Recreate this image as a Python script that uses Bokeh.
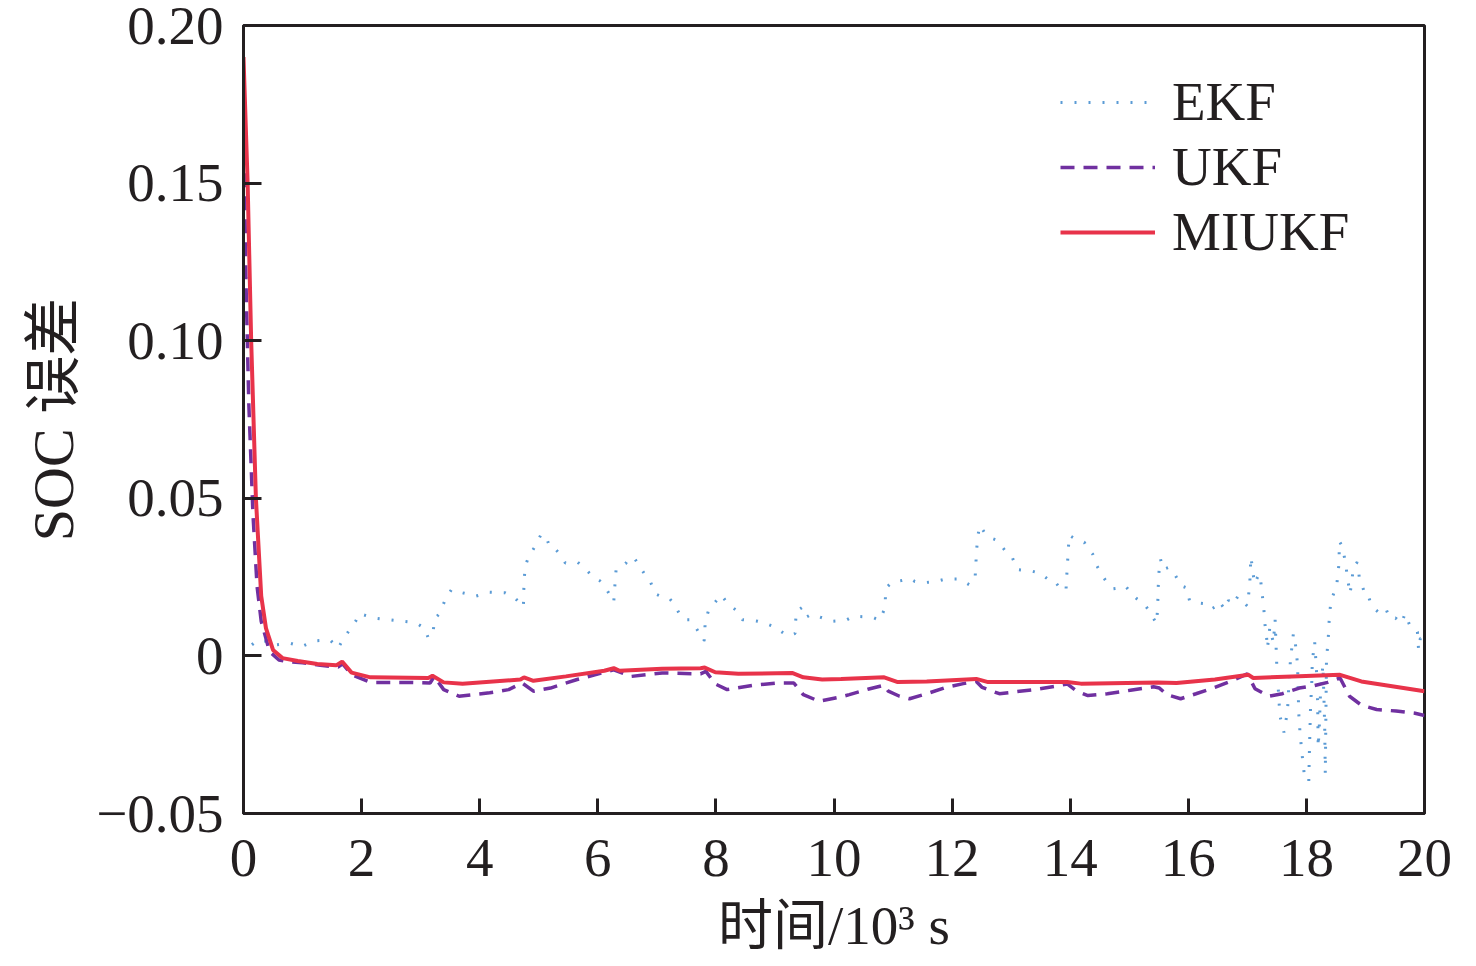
from bokeh.plotting import figure
from bokeh.models import FixedTicker, CustomJSTickFormatter, Legend, LegendItem, Range1d
from bokeh.embed import file_html
from bokeh.resources import INLINE

# ---- data (time in 10^3 s, SOC error) ----
ekf_t = [0.0, 0.14, 0.24, 0.47, 0.53, 0.79, 0.99, 1.21, 1.47, 1.6, 1.69, 1.83, 1.9, 1.96, 2.22, 2.54, 2.8,
         2.96, 3.07, 3.13, 3.21, 3.24, 3.32, 3.42, 3.52, 3.71, 3.94, 4.17, 4.43, 4.59, 4.74, 4.75, 4.77,
         4.82, 4.9, 4.96, 5.04, 5.12, 5.19, 5.28, 5.37, 5.45, 5.66, 5.82, 5.92, 6.03, 6.15, 6.27, 6.29,
         6.31, 6.4, 6.47, 6.55, 6.63, 6.71, 6.79, 6.89, 6.97, 7.09, 7.21, 7.3, 7.38, 7.47, 7.55, 7.66,
         7.8, 7.82, 7.87, 7.99, 8.09, 8.16, 8.24, 8.37, 8.45, 8.58, 8.71, 8.84, 8.97, 9.07, 9.21, 9.34,
         9.36, 9.47, 9.54, 9.62, 9.81, 9.97, 10.2, 10.33, 10.53, 10.66, 10.77, 10.86, 10.88, 10.98,
         11.14, 11.28, 11.37, 11.5, 11.73, 11.89, 12.12, 12.3, 12.39, 12.41, 12.43, 12.47, 12.55, 12.64,
         12.76, 12.85, 12.94, 13.02, 13.1, 13.33, 13.49, 13.62, 13.72, 13.87, 13.93, 13.95, 13.97, 13.98,
         14.08, 14.17, 14.24, 14.3, 14.38, 14.45, 14.53, 14.61, 14.73, 14.82, 14.94, 15.03, 15.13, 15.25,
         15.34, 15.46, 15.48, 15.49, 15.51, 15.53, 15.57, 15.67, 15.77, 15.87, 15.97, 16.02, 16.1, 16.26,
         16.38, 16.45, 16.52, 16.62, 16.68, 16.76, 16.84, 17.0, 17.04, 17.06, 17.09, 17.12, 17.2, 17.22,
         17.26, 17.28, 17.3, 17.32, 17.34, 17.38, 17.44, 17.47, 17.5, 17.53, 17.55, 17.62, 17.68, 17.7,
         17.73, 17.78, 17.81, 17.85, 17.87, 17.89, 17.92, 17.96, 18.04, 18.05, 18.07, 18.09, 18.1, 18.14,
         18.17, 18.19, 18.2, 18.22, 18.24, 18.28, 18.3, 18.31, 18.32, 18.34, 18.37, 18.39, 18.42, 18.51,
         18.55, 18.56, 18.61, 18.66, 18.7, 18.74, 18.8, 18.86, 18.9, 18.93, 18.98, 19.03, 19.09, 19.15,
         19.25, 19.35, 19.41, 19.51, 19.61, 19.67, 19.75, 19.83, 19.88, 19.9, 19.93, 20.0]
ekf_err = [0.0, 0.0035, 0.005, 0.0045, 0.0035, 0.004, 0.003, 0.0048, 0.005, 0.0024, 0.0053, 0.0092, 0.011,
           0.0134, 0.012, 0.0113, 0.0108, 0.01, 0.0087, 0.0056, 0.0076, 0.0119, 0.0134, 0.018, 0.021, 0.020,
           0.019, 0.0202, 0.020, 0.0185, 0.0155, 0.0232, 0.0284, 0.031, 0.0336, 0.0354, 0.0386, 0.038,
           0.0344, 0.0339, 0.032, 0.0295, 0.0297, 0.027, 0.025, 0.0239, 0.0211, 0.0171, 0.0225, 0.0274,
           0.0286, 0.0293, 0.0314, 0.0307, 0.0284, 0.026, 0.0236, 0.0197, 0.0187, 0.0183, 0.0163, 0.0134,
           0.0115, 0.0115, 0.009, 0.0047, 0.0108, 0.0141, 0.0171, 0.0194, 0.0176, 0.016, 0.0141, 0.0115,
           0.0113, 0.011, 0.0103, 0.0094, 0.0082, 0.0064, 0.0071, 0.0141, 0.0155, 0.0124, 0.0132, 0.012,
           0.011, 0.0113, 0.0126, 0.0124, 0.0122, 0.0113, 0.015, 0.0215, 0.0234, 0.0239, 0.0246, 0.0236,
           0.0232, 0.0236, 0.0244, 0.0244, 0.0225, 0.0249, 0.0318, 0.0375, 0.0414, 0.0391, 0.0375, 0.0367,
           0.0346, 0.0323, 0.0312, 0.0274, 0.027, 0.0262, 0.0244, 0.0241, 0.0205, 0.0213, 0.0283, 0.034,
           0.0383, 0.0372, 0.0367, 0.036, 0.0339, 0.0323, 0.0286, 0.026, 0.0236, 0.0213, 0.0215, 0.0221,
           0.0199, 0.0181, 0.0166, 0.0142, 0.0103, 0.0147, 0.0216, 0.0289, 0.0307, 0.0274, 0.0281, 0.026,
           0.0223, 0.0216, 0.0176, 0.0169, 0.0166, 0.0148, 0.0155, 0.0173, 0.0148, 0.0176, 0.0163, 0.0189,
           0.0158, 0.0225, 0.0314, 0.0274, 0.0229, 0.026, 0.0249, 0.0181, 0.0147, 0.0097, 0.0073, 0.0024,
           0.009, 0.0042, 0.0115, -0.0039, -0.0123, -0.0189, -0.0243, -0.0175, -0.0102, -0.0013, 0.0071,
           0.0045, -0.0026, -0.018, -0.0238, -0.0301, -0.0369, -0.04, -0.0311, -0.0164, -0.0091, -0.0018,
           0.0045, -0.0044, -0.0144, -0.029, -0.0217, -0.0112, -0.0028, -0.0154, -0.0227, -0.0374, -0.0013,
           0.0056, 0.0129, 0.0179, 0.0218, 0.0289, 0.0363, 0.0346, 0.0297, 0.0242, 0.0197, 0.0284, 0.0297,
           0.0244, 0.0232, 0.0202, 0.0202, 0.0166, 0.015, 0.0134, 0.0148, 0.0119, 0.012, 0.0103, 0.0134,
           0.0097, 0.0092, 0.0076, 0.0019, 0.0056, 0.0053]

ukf_t = [0.0, 0.04, 0.09, 0.16, 0.23, 0.3, 0.44, 0.6, 0.73, 1.0, 1.3, 1.6, 1.68, 1.83, 2.15, 2.8, 3.16, 3.23,
         3.39, 3.65, 4.17, 4.49, 4.72, 4.91, 5.2, 5.65, 5.95, 6.27, 6.57, 7.09, 7.74, 7.83, 7.99, 8.19,
         8.64, 9.03, 9.32, 9.48, 9.75, 10.07, 10.26, 10.59, 10.85, 10.92, 11.11, 11.28, 11.57, 11.89,
         12.19, 12.41, 12.51, 12.8, 13.07, 13.39, 13.85, 13.95, 14.11, 14.3, 14.63, 15.02, 15.41, 15.51,
         15.64, 15.87, 16.13, 16.45, 16.71, 17.0, 17.13, 17.36, 17.59, 17.88, 18.14, 18.36, 18.57, 18.73,
         18.93, 19.19, 19.52, 19.84, 20.0]
ukf_err = [0.175, 0.12, 0.08, 0.045, 0.022, 0.011, 0.0014, -0.0013, -0.0018, -0.0022, -0.003, -0.0035,
           -0.0025, -0.006, -0.0084, -0.0084, -0.0086, -0.0065, -0.0107, -0.0128, -0.0117, -0.0107, -0.0086,
           -0.0112, -0.0102, -0.0075, -0.006, -0.0044, -0.0065, -0.0054, -0.0057, -0.0049, -0.0089, -0.0107,
           -0.0093, -0.0086, -0.0086, -0.0123, -0.0144, -0.0132, -0.0123, -0.0105, -0.0093, -0.0112, -0.0128,
           -0.0136, -0.012, -0.01, -0.0088, -0.0081, -0.01, -0.012, -0.0114, -0.0107, -0.0093, -0.0089,
           -0.0112, -0.0126, -0.012, -0.0109, -0.0098, -0.0102, -0.0123, -0.0136, -0.012, -0.01, -0.0081,
           -0.0057, -0.0104, -0.0128, -0.012, -0.0102, -0.0094, -0.0084, -0.007, -0.0128, -0.0156, -0.017,
           -0.0175, -0.0182, -0.0189]

miukf_t = [0.0, 0.07, 0.13, 0.21, 0.3, 0.38, 0.5, 0.66, 0.92, 1.25, 1.57, 1.67, 1.83, 2.15, 3.13, 3.2, 3.39,
           3.71, 4.69, 4.75, 4.91, 5.46, 6.11, 6.27, 6.37, 7.09, 7.74, 7.81, 7.99, 8.38, 9.29, 9.48, 9.8,
           10.12, 10.85, 11.08, 11.57, 12.41, 12.61, 13.95, 14.18, 15.48, 15.8, 16.45, 17.02, 17.1, 17.76,
           18.57, 18.93, 20.0]
miukf_err = [0.19, 0.15, 0.10, 0.05, 0.019, 0.0088, 0.0019, -0.0007, -0.0016, -0.0026, -0.003, -0.0018,
             -0.0053, -0.0068, -0.007, -0.0063, -0.0084, -0.0088, -0.0075, -0.0068, -0.0079, -0.0065, -0.0047,
             -0.0039, -0.0047, -0.0041, -0.0039, -0.0037, -0.0052, -0.0057, -0.0054, -0.0068, -0.0075,
             -0.0073, -0.0068, -0.0083, -0.0081, -0.0073, -0.0083, -0.0083, -0.0088, -0.0084, -0.0086,
             -0.0075, -0.006, -0.007, -0.0065, -0.006, -0.0081, -0.0112]

x_ticks = [0, 2, 4, 6, 8, 10, 12, 14, 16, 18, 20]
y_ticks = [-0.05, 0.0, 0.05, 0.10, 0.15, 0.20]
series_names = ["EKF", "UKF", "MIUKF"]
x_label = "时间/10³ s"
y_label = "SOC 误差"

SERIF = "'Liberation Serif', 'Noto Sans CJK SC'"
INK = "#231f20"

p = figure(width=1468, height=958, output_backend="svg", toolbar_location=None,
           x_range=Range1d(0, 20), y_range=Range1d(-0.05, 0.20),
           min_border_left=243, min_border_right=44, min_border_top=25, min_border_bottom=138,
           background_fill_color="white", border_fill_color="white")
p.grid.visible = False
p.outline_line_color = INK
p.outline_line_width = 3

r_ekf = p.line(ekf_t, ekf_err, line_color="#5b9bd5", line_width=3, line_dash="2 12")
r_ukf = p.line(ukf_t, ukf_err, line_color="#7030a0", line_width=3.5, line_dash="14 9")
r_mi = p.line(miukf_t, miukf_err, line_color="#e8334a", line_width=4)

for ax in (p.xaxis[0], p.yaxis[0]):
    ax.axis_line_color = INK
    ax.axis_line_width = 3
    ax.major_tick_line_color = INK
    ax.major_tick_line_width = 3
    ax.major_tick_out = 0
    ax.minor_tick_line_color = None
    ax.major_label_text_font = SERIF
    ax.major_label_text_font_size = "55px"
    ax.major_label_text_color = INK
    ax.axis_label_text_font = SERIF
    ax.axis_label_text_font_style = "normal"
    ax.axis_label_text_color = INK

p.xaxis.axis_label_text_font_size = "55px"
p.yaxis.axis_label_text_font_size = "58px"
p.xaxis.ticker = FixedTicker(ticks=x_ticks, minor_ticks=[])
p.yaxis.ticker = FixedTicker(ticks=y_ticks, minor_ticks=[])
p.xaxis.major_tick_in = 15
p.yaxis.major_tick_in = 18
p.xaxis.major_label_standoff = 26
p.yaxis.major_label_standoff = 20
p.xaxis.axis_label = x_label
p.yaxis.axis_label = y_label
p.xaxis.axis_label_standoff = 16
p.yaxis.axis_label_standoff = 7
p.yaxis.formatter = CustomJSTickFormatter(code="""
if (Math.abs(tick) < 1e-9) return '0';
if (tick < 0) return '\u2212' + (-tick).toFixed(2);
return tick.toFixed(2);
""")

legend = Legend(items=[LegendItem(label=series_names[0], renderers=[r_ekf]),
                       LegendItem(label=series_names[1], renderers=[r_ukf]),
                       LegendItem(label=series_names[2], renderers=[r_mi])],
                location=(817, 550), orientation="vertical",
                glyph_width=95, glyph_height=50, label_height=50, label_standoff=17,
                spacing=2, padding=5, margin=0,
                label_text_font=SERIF, label_text_font_size="55px", label_text_color=INK,
                border_line_color=None, background_fill_alpha=0)
p.add_layout(legend)

open("out.html", "w").write(file_html(p, INLINE))
